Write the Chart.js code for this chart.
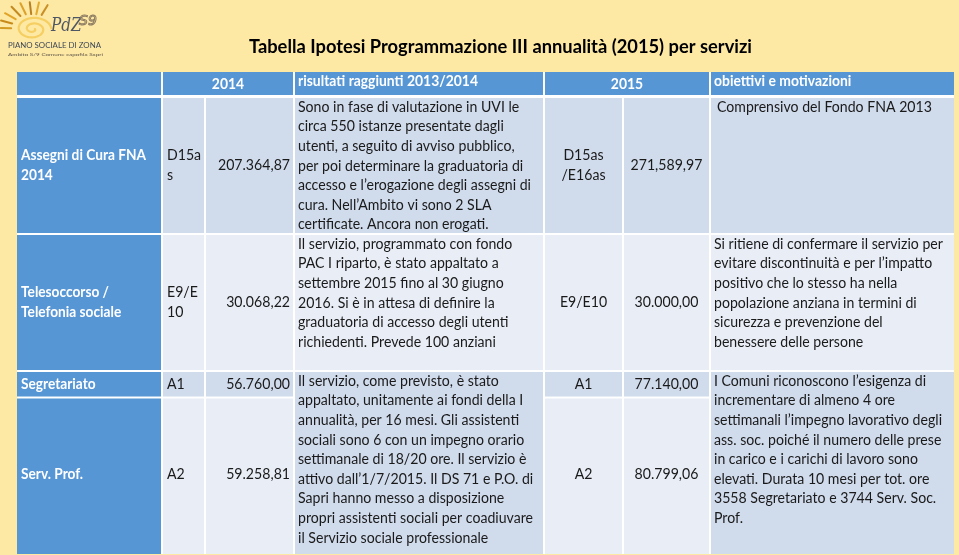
<!DOCTYPE html>
<html><head><meta charset="utf-8">
<script src="https://cdn.jsdelivr.net/npm/chart.js@4.4.1/dist/chart.umd.min.js"></script>
<style>html,body{margin:0;padding:0;background:#fde8a4;}canvas{display:block;}</style>
</head><body>
<canvas id="c" width="959" height="555" style="width:959px;height:555px"></canvas>
<script>
// ---------------- DATA ----------------
const titleText = 'Tabella Ipotesi Programmazione III annualità (2015) per servizi';
const headerLabels = ['', '2014', 'risultati raggiunti 2013/2014', '2015', 'obiettivi e motivazioni'];
const services = [['Assegni di Cura FNA', '2014'], ['Telesoccorso /', 'Telefonia sociale'], ['Segretariato'], ['Serv. Prof.']];
const codes2014 = [['D15a', 's'], ['E9/E', '10'], ['A1'], ['A2']];
const amounts2014 = ['207.364,87', '30.068,22', '56.760,00', '59.258,81'];
const codes2015 = [['D15as', '/E16as'], ['E9/E10'], ['A1'], ['A2']];
const amounts2015 = ['271,589,97', '30.000,00', '77.140,00', '80.799,06'];
const results = [
  ['Sono in fase di valutazione in UVI le', 'circa 550 istanze presentate dagli', 'utenti, a seguito di avviso pubblico,', 'per poi determinare la graduatoria di', 'accesso e l’erogazione degli assegni di', 'cura. Nell’Ambito vi sono 2 SLA', 'certificate. Ancora non erogati.'],
  ['Il servizio, programmato con fondo', 'PAC I riparto, è stato appaltato a', 'settembre 2015 fino al 30 giugno', '2016. Si è in attesa di definire la', 'graduatoria di accesso degli utenti', 'richiedenti. Prevede 100 anziani'],
  ['Il servizio, come previsto, è stato', 'appaltato, unitamente ai fondi della I', 'annualità, per 16 mesi. Gli assistenti', 'sociali sono 6 con un impegno orario', 'settimanale di 18/20 ore. Il servizio è', 'attivo dall’1/7/2015. Il DS 71 e P.O. di', 'Sapri hanno messo a disposizione', 'propri assistenti sociali per coadiuvare', 'il Servizio sociale professionale']
];
const objectives = [
  ['Comprensivo del Fondo FNA 2013'],
  ['Si ritiene di confermare il servizio per', 'evitare discontinuità e per l’impatto', 'positivo che lo stesso ha nella', 'popolazione anziana in termini di', 'sicurezza e prevenzione del', 'benessere delle persone'],
  ['I Comuni riconoscono l’esigenza di', 'incrementare di almeno 4 ore', 'settimanali l’impegno lavorativo degli', 'ass. soc. poiché il numero delle prese', 'in carico e i carichi di lavoro sono', 'elevati. Durata 10 mesi per tot. ore', '3558 Segretariato e 3744 Serv. Soc.', 'Prof.']
];
const logoName = 'PdZ';
const logoMark = 'S9';
const logoLine1 = 'PIANO SOCIALE DI ZONA';
const logoLine2 = 'Ambito S/9 Comune capofila Sapri';

// ---------------- LAYOUT / STYLE ----------------
const colX = [17, 162, 205, 294, 544, 623, 710, 954];
const rowY = [72, 96.5, 234, 371, 397.5, 554];
const C = {
  bg: '#fde8a4', blue: '#5796d5', dark: '#d0dbec', light: '#e8edf6', white: '#ffffff', text: '#1a1a1a'
};
const FONT = 'Lato, "Open Sans", sans-serif';
const LINE = 19.6;

const tablePlugin = {
  id: 'tablePlugin',
  beforeDraw(chart) {
    const ctx = chart.ctx;
    const xs = chart.scales.x, ys = chart.scales.y;
    const X = v => xs.getPixelForValue(v);
    const Y = v => ys.getPixelForValue(v);
    ctx.save();
    ctx.fillStyle = C.bg;
    ctx.fillRect(0, 0, chart.width, chart.height);

    function mk(font, color, ref, target) {
      ctx.font = font;
      const k = target ? target / ctx.measureText(ref).width : 1;
      return { font, color, k };
    }
    const sBody = mk('14.6px ' + FONT, C.text, 'accesso e l’erogazione degli assegni di', 233);
    const sNum = { font: sBody.font, color: C.text, k: sBody.k };
    const sSvc = mk('bold 14.6px ' + FONT, '#ffffff', 'Assegni di Cura FNA', 125);
    const sHead = mk('bold 14.6px ' + FONT, '#ffffff', 'risultati raggiunti 2013/2014', 180);
    const sTitle = mk('bold 18.5px ' + FONT, '#000000', titleText, 503);
    const sLogo1 = mk('7px ' + FONT, '#3e4856', logoLine1, 93);
    const sLogo2 = mk('4.6px ' + FONT, '#5e5548', logoLine2, 95);

    function txt(str, x, y, st, align) {
      ctx.save();
      ctx.font = st.font;
      ctx.fillStyle = st.color;
      ctx.textBaseline = 'middle';
      ctx.textAlign = 'left';
      const w = ctx.measureText(str).width * st.k;
      const px = X(x), py = Y(y);
      const x0 = align === 'center' ? px - w / 2 : align === 'right' ? px - w : px;
      ctx.translate(x0, py);
      ctx.scale(st.k, 1);
      if (st.stroke) { ctx.strokeStyle = st.stroke; ctx.lineWidth = 1; ctx.strokeText(str, 0, 0); }
      else ctx.fillText(str, 0, 0);
      ctx.restore();
    }
    function lines(arr, x, yCenter, st, align) {
      const y0 = yCenter - (arr.length - 1) * LINE / 2;
      arr.forEach((s, i) => txt(s, x, y0 + i * LINE, st, align));
    }
    function linesTop(arr, x, yFirst, st) {
      arr.forEach((s, i) => txt(s, x, yFirst + i * LINE, st, 'left'));
    }
    function cell(c0, c1, r0, r1, fill) {
      const g = 1;
      const x0 = X(colX[c0]) + (c0 > 0 ? g : 0), x1 = X(colX[c1]) - (c1 < 7 ? g : 0);
      const y0 = Y(rowY[r0]) + (r0 > 0 ? (r0 === 1 ? 1.5 : g) : 0), y1 = Y(rowY[r1]) - (r1 < 5 ? (r1 === 1 ? 1.5 : g) : 0);
      ctx.fillStyle = fill;
      ctx.fillRect(x0, y0, x1 - x0, y1 - y0);
    }

    ctx.fillStyle = C.white;
    ctx.fillRect(X(colX[0]), Y(rowY[0]), X(colX[7]) - X(colX[0]), Y(rowY[5]) - Y(rowY[0]));
    cell(0, 1, 0, 1, C.blue); cell(1, 3, 0, 1, C.blue); cell(3, 4, 0, 1, C.blue); cell(4, 6, 0, 1, C.blue); cell(6, 7, 0, 1, C.blue);
    for (let r = 1; r <= 4; r++) cell(0, 1, r, r + 1, C.blue);
    for (let c = 1; c <= 6; c++) { cell(c, c + 1, 1, 2, C.dark); cell(c, c + 1, 2, 3, C.light); }
    cell(1, 2, 3, 4, C.dark); cell(2, 3, 3, 4, C.dark); cell(4, 5, 3, 4, C.dark); cell(5, 6, 3, 4, C.dark);
    cell(1, 2, 4, 5, C.light); cell(2, 3, 4, 5, C.light); cell(4, 5, 4, 5, C.light); cell(5, 6, 4, 5, C.light);
    cell(3, 4, 3, 5, C.dark); cell(6, 7, 3, 5, C.dark);

    txt(headerLabels[1], (colX[1] + colX[3]) / 2, 84.5, sHead, 'center');
    txt(headerLabels[2], colX[3] + 4, 81.5, sHead, 'left');
    txt(headerLabels[3], (colX[4] + colX[6]) / 2, 84.5, sHead, 'center');
    txt(headerLabels[4], colX[6] + 4, 81.5, sHead, 'left');

    const centers = [165.5, 302.5, 384.5, 474.5];
    for (let i = 0; i < 4; i++) {
      lines(services[i], colX[0] + 4, centers[i], sSvc, 'left');
      lines(codes2014[i], colX[1] + 5, centers[i], sBody, 'left');
      txt(amounts2014[i], colX[3] - 4, centers[i], sNum, 'right');
      lines(codes2015[i], (colX[4] + colX[5]) / 2, centers[i], sBody, 'center');
      txt(amounts2015[i], (colX[5] + colX[6]) / 2, centers[i], sNum, 'center');
    }
    const tops = [107, 244, 381];
    for (let i = 0; i < 3; i++) {
      linesTop(results[i], colX[3] + 4, tops[i], sBody);
      linesTop(objectives[i], colX[6] + (i === 0 ? 7 : 4), tops[i], sBody);
    }

    txt(titleText, 500.5, 47.5, sTitle, 'center');

    // logo
    ctx.save();
    ctx.lineCap = 'round';
    const cx = X(33), cy = Y(29);
    const rays = [[182, 19, 28, '#d39a22'], [197, 19, 29, '#c78a18'], [213, 18, 29, '#e0a528'], [230, 17, 29, '#c48a20'], [247, 16, 28, '#dca22a'], [264, 15, 27, '#b98022'], [281, 15, 27, '#e2aa30'], [298, 16, 27, '#c99028']];
    rays.forEach(([a, r0, r1, col]) => {
      const t = a * Math.PI / 180;
      ctx.strokeStyle = col; ctx.lineWidth = 2;
      ctx.beginPath();
      ctx.moveTo(cx + Math.cos(t) * r0 * 1.15, cy + Math.sin(t) * r0);
      ctx.lineTo(cx + Math.cos(t) * r1 * 1.15, cy + Math.sin(t) * r1);
      ctx.stroke();
    });
    ctx.strokeStyle = '#f6cf63'; ctx.lineWidth = 2.2;
    ctx.beginPath();
    for (let t = 0; t < 4 * Math.PI; t += 0.1) {
      const r = 1.5 + t * 1.05;
      const px = cx + Math.cos(t) * r * 1.25, py = cy + Math.sin(t) * r * 0.85;
      if (t === 0) ctx.moveTo(px, py); else ctx.lineTo(px, py);
    }
    ctx.stroke();
    ctx.restore();
    txt(logoName, 51, 26, { font: 'italic 18px "DejaVu Serif", serif', color: '#4e5864', k: 0.85 }, 'left');
    txt(logoMark, 79, 21, { font: 'italic 14px "DejaVu Sans", sans-serif', color: '#8b7a60', stroke: '#8b7a60', k: 1 }, 'left');
    txt(logoLine1, 8, 46, sLogo1, 'left');
    txt(logoLine2, 8, 55, sLogo2, 'left');
    ctx.restore();
  }
};

new Chart(document.getElementById('c'), {
  type: 'scatter',
  data: { datasets: [{ data: [], pointRadius: 0 }] },
  options: {
    responsive: false,
    animation: false,
    events: [],
    layout: { padding: 0 },
    plugins: { legend: { display: false }, tooltip: { enabled: false }, title: { display: false } },
    scales: {
      x: { type: 'linear', min: 0, max: 959, display: false },
      y: { type: 'linear', min: 0, max: 555, reverse: true, display: false }
    }
  },
  plugins: [tablePlugin]
});
</script>
</body></html>
